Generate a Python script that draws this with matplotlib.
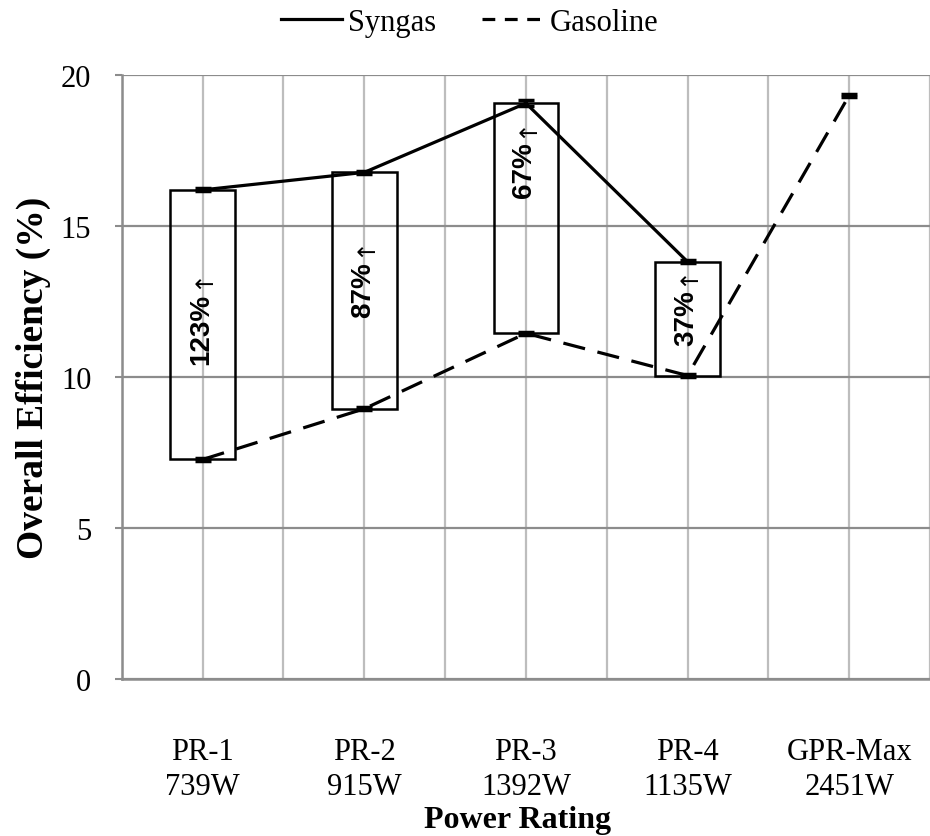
import matplotlib
matplotlib.use("Agg")
import matplotlib.pyplot as plt
from matplotlib.patches import Rectangle
import numpy as np

categories = ["PR-1\n739W", "PR-2\n915W", "PR-3\n1392W", "PR-4\n1135W", "GPR-Max\n2451W"]
syngas = [16.2, 16.78, 19.07, 13.82]
gasoline = [7.27, 8.95, 11.45, 10.05, 19.33]
syngas_err = [0.05, 0.05, 0.1, 0.05]
gasoline_err = [0.05, 0.05, 0.05, 0.05, 0.05]
gain_labels = ["123%", "87%", "67%", "37%"]
label_y = [12.8, 13.85, 17.8, 12.9]

serif = ["Liberation Serif", "DejaVu Serif"]
sans = ["Liberation Sans", "DejaVu Sans"]

fig = plt.figure(figsize=(9.3, 8.37), dpi=100)
ax = fig.add_axes([0.131, 0.1876, 0.869, 0.7214])

x_all = np.arange(len(categories))
x_syn = x_all[:len(syngas)]

ax.set_xlim(-0.5, 4.44)
ax.set_ylim(0, 20)
ax.set_yticks([0, 5, 10, 15, 20])
ax.set_xticks(x_all)
ax.set_xticks(np.arange(-0.5, 5.0, 1.0), minor=True)
ax.set_xticklabels(categories, fontfamily=serif, fontsize=22, linespacing=1.25)
for lbl in ax.get_yticklabels():
    lbl.set_fontfamily(serif)
    lbl.set_fontsize(22)

ax.grid(axis="y", color="#8c8c8c", lw=1.6, zorder=0)
ax.grid(axis="x", which="both", color="#bdbdbd", lw=1.6, zorder=0)
ax.set_axisbelow(True)

for s in ["top", "right"]:
    ax.spines[s].set_visible(False)
for s in ["left", "bottom"]:
    ax.spines[s].set_color("#8c8c8c")
    ax.spines[s].set_linewidth(1.8)

ax.tick_params(axis="x", which="both", length=0, pad=42)
ax.tick_params(axis="y", length=5, width=1.5, color="#8c8c8c", pad=17)

# boxes
hw = 0.2
for xi, s, g in zip(x_syn, syngas, gasoline):
    ax.add_patch(Rectangle((xi - hw, g), 2 * hw, s - g, fill=False,
                           edgecolor="black", lw=1.8, zorder=3))

ax.plot(x_syn, syngas, color="black", lw=2.3, label="Syngas", zorder=4)
ax.plot(x_all, gasoline, color="black", lw=2.3, ls=(0, (7, 4)), label="Gasoline", zorder=4)

ax.errorbar(x_syn, syngas, yerr=syngas_err, fmt="none", ecolor="black",
            elinewidth=3, capsize=6, capthick=2.5, zorder=5)
ax.errorbar(x_all, gasoline, yerr=gasoline_err, fmt="none", ecolor="black",
            elinewidth=3, capsize=6, capthick=2.5, zorder=5)

for xi, t, yl in zip(x_syn, gain_labels, label_y):
    ax.text(xi - 0.01, yl, t, rotation=90, ha="center", va="top",
            fontfamily=sans, fontweight="bold", fontsize=20, zorder=6)
    ax.text(xi + 0.0, yl + 0.15, "\u2191", rotation=90, ha="center", va="bottom",
            fontfamily=["DejaVu Sans"], fontweight="normal", fontsize=17, zorder=6)

ax.set_xlabel("Power Rating", fontfamily=serif, fontweight="bold", fontsize=23, va="center")
ax.xaxis.set_label_coords(0.49, -0.232)
ax.set_ylabel("Overall Efficiency (%)", fontfamily=serif, fontweight="bold", fontsize=27, labelpad=7)

leg_lines = ax.get_lines()[:2]
leg = fig.legend(handles=leg_lines, loc="upper center", bbox_to_anchor=(0.505, 1.022),
                 ncol=2, frameon=False, prop={"family": serif, "size": 22},
                 handlelength=2.0, handletextpad=0.2, columnspacing=1.5)
leg.get_lines()[1].set_linestyle((0, (4, 3)))

fig.savefig("out.png", dpi=100)
